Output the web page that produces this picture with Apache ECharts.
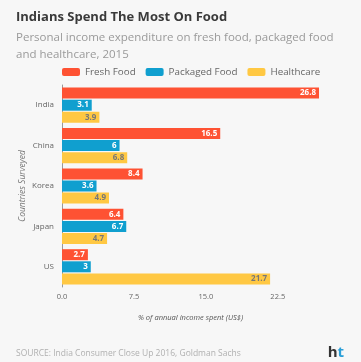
<!DOCTYPE html>
<html><head><meta charset="utf-8">
<script src="https://cdn.jsdelivr.net/npm/echarts@6/dist/echarts.min.js"></script>
<style>html,body{margin:0;padding:0;background:#f7f7f7}#c{width:361px;height:362px}</style>
</head><body><div id="c"></div>
<script>
const categories = ['India', 'China', 'Korea', 'Japan', 'US'];
const freshFood = [26.8, 16.5, 8.4, 6.4, 2.7];
const packagedFood = [3.1, 6, 3.6, 6.7, 3];
const healthcare = [3.9, 6.8, 4.9, 4.7, 21.7];
const xTicks = [0, 7.5, 15, 22.5];

const font = 'Open Sans';
const chart = echarts.init(document.getElementById('c'));
function lbl(color) {
  return { show: true, position: 'insideRight', color: color, fontSize: 8, fontWeight: 'bold', fontFamily: font, distance: 3 };
}
chart.setOption({
  backgroundColor: '#f7f7f7',
  animation: false,
  title: [
    { text: 'Indians Spend The Most On Food', left: 11, top: 6, textStyle: { fontFamily: font, fontSize: 13, fontWeight: 'bold', color: '#3a3a3a' } },
    { text: 'Personal income expenditure on fresh food, packaged food\nand healthcare, 2015', left: 11, top: 24, textStyle: { fontFamily: font, fontSize: 11.5, fontWeight: 'normal', color: '#9a9a9a', lineHeight: 17 } },
    { text: 'SOURCE: India Consumer Close Up 2016, Goldman Sachs', left: 11, top: 344, textStyle: { fontFamily: font, fontSize: 8.5, fontWeight: 'normal', color: '#b0b0b0' } },
    { text: '{h|h}{t|t}', right: 12, top: 340, textStyle: { rich: { h: { fontFamily: font, fontSize: 15, fontWeight: 'bold', color: '#333' }, t: { fontFamily: font, fontSize: 15, fontWeight: 'bold', color: '#2a9fd8' } } } }
  ],
  legend: {
    left: 58, top: 67, itemWidth: 18, itemHeight: 8, itemGap: 10, padding: [0, 4],
    textStyle: { fontFamily: font, fontSize: 9.8, color: '#666' },
    data: ['Fresh Food', 'Packaged Food', 'Healthcare']
  },
  grid: { left: 62, right: 42, top: 85, bottom: 75 },
  xAxis: {
    type: 'value', min: 0, max: 26.8, interval: 7.5,
    name: '% of annual income spent (US$)', nameLocation: 'middle', nameGap: 27,
    nameTextStyle: { fontFamily: font, fontSize: 7.5, fontStyle: 'italic', color: '#555' },
    axisLine: { show: false }, splitLine: { show: false },
    axisTick: { show: false },
    axisLabel: { fontFamily: font, fontSize: 7.5, color: '#666', margin: 6,
      formatter: v => xTicks.indexOf(v) >= 0 ? v.toFixed(1) : '' }
  },
  yAxis: {
    type: 'category', data: categories, inverse: true,
    name: 'Countries Surveyed', nameLocation: 'middle', nameGap: 35, nameMoveOverlap: false,
    nameTextStyle: { fontFamily: font, fontSize: 8.5, fontStyle: 'italic', color: '#777' },
    axisLine: { show: true, lineStyle: { color: '#999', width: 1 } },
    axisTick: { show: false },
    axisLabel: { fontFamily: font, fontSize: 8, color: '#666', margin: 8 }
  },
  series: [
    { name: 'Fresh Food', type: 'bar', data: freshFood, barWidth: 11, barGap: '10%', itemStyle: { color: '#fe5233' }, label: lbl('#fff') },
    { name: 'Packaged Food', type: 'bar', data: packagedFood, barWidth: 11, barGap: '10%', itemStyle: { color: '#109fcf' }, label: lbl('#fff') },
    { name: 'Healthcare', type: 'bar', data: healthcare, barWidth: 11, barGap: '10%', itemStyle: { color: '#ffc843' }, label: lbl('#777') }
  ]
});
</script></body></html>
